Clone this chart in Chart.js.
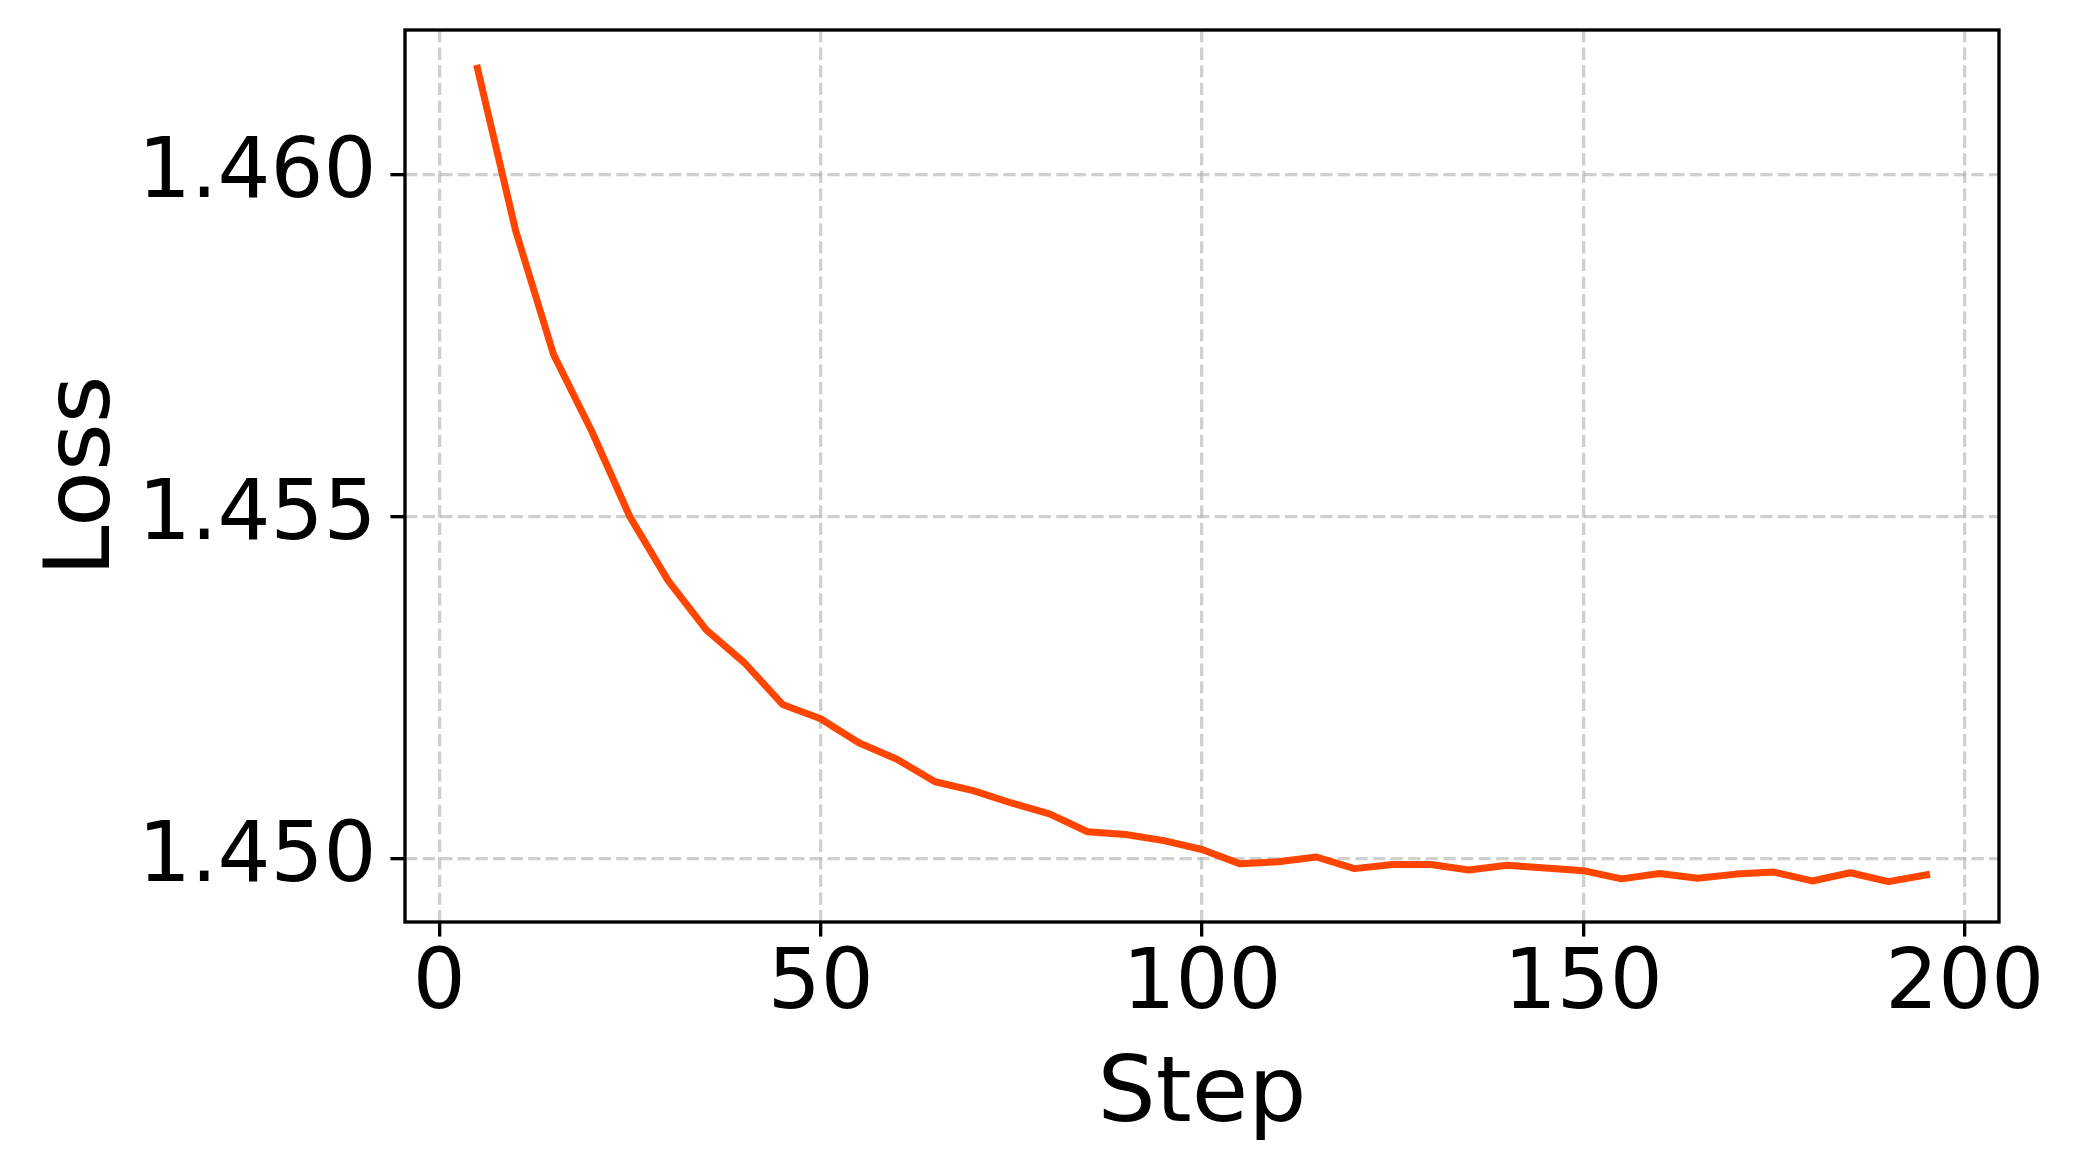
<!DOCTYPE html>
<html>
<head>
<meta charset="utf-8">
<title>Loss</title>
<script src="https://cdn.jsdelivr.net/npm/chart.js@4.4.1/dist/chart.umd.min.js"></script>
<style>
  body { margin: 0; background: #fff; }
  #myChart { display: block; }
</style>
</head>
<body>
<canvas id="myChart" width="2073" height="1170"></canvas>
<script>
// data
const steps = [5, 10, 15, 20, 25, 30, 35, 40, 45, 50, 55, 60, 65, 70, 75, 80, 85, 90, 95, 100,
    105, 110, 115, 120, 125, 130, 135, 140, 145, 150, 155, 160, 165, 170, 175, 180, 185, 190, 195]
const lossValues = [1.46156, 1.45919, 1.45737, 1.45625, 1.45500, 1.45407, 1.45335, 1.45287, 1.45226, 1.45205,
    1.45170, 1.45146, 1.45113, 1.45100, 1.45082, 1.45066, 1.45040, 1.45036, 1.45027, 1.45014,
    1.44993, 1.44996, 1.45003, 1.44986, 1.44992, 1.44992, 1.44984, 1.44991, 1.44987, 1.44983,
    1.44971, 1.44979, 1.44972, 1.44978, 1.44981, 1.44968, 1.44980, 1.44967, 1.44977]
const xTicks = [0, 50, 100, 150, 200]
const yTicks = [1.450, 1.455, 1.460]

const tickFont = { family: 'DejaVu Sans', size: 83.3 }
const titleFont = { family: 'DejaVu Sans', size: 91.7 }
const gridColor = 'rgba(176, 176, 176, 0.6)'

// black box around the plot area
const frame = {
    id: 'frame',
    afterDraw: chart => {
        const { ctx, chartArea } = chart
        ctx.save()
        ctx.strokeStyle = '#000'
        ctx.lineWidth = 3.33
        ctx.strokeRect(chartArea.left, chartArea.top, chartArea.right - chartArea.left, chartArea.bottom - chartArea.top)
        ctx.restore()
    }
}

const ctx = document.querySelector('#myChart').getContext('2d')

const myChart = new Chart(ctx, {
    type: 'line',
    data: {
        datasets: [
            {
                label: 'Loss',
                data: steps.map((s, i) => ({ x: s, y: lossValues[i] })),
                borderColor: '#ff4500',
                borderWidth: 7,
                borderCapStyle: 'square',
                borderJoinStyle: 'round',
                pointRadius: 0,
                tension: 0,
                fill: false
            }
        ]
    },
    options: {
        responsive: false,
        animation: false,
        events: [],
        layout: {
            padding: { top: 30, right: 74, left: 0, bottom: 0 }
        },
        plugins: {
            legend: { display: false },
            tooltip: { enabled: false }
        },
        scales: {
            x: {
                type: 'linear',
                min: -4.5,
                max: 204.5,
                afterBuildTicks: scale => {
                    scale.ticks = xTicks.map(v => ({ value: v }))
                },
                afterFit: scale => {
                    scale.height = 248
                    scale.paddingLeft = 0
                    scale.paddingRight = 0
                },
                grid: {
                    color: gridColor,
                    lineWidth: 3.33,
                    tickColor: '#000',
                    tickWidth: 3.33,
                    tickLength: 14.6
                },
                border: { display: false, dash: [12.3, 5.3] },
                ticks: {
                    font: tickFont,
                    color: '#000',
                    padding: 0,
                    autoSkip: false,
                    maxRotation: 0,
                    callback: v => String(v)
                },
                title: {
                    display: true,
                    text: 'Step',
                    font: titleFont,
                    color: '#000',
                    padding: { top: 0, bottom: 18 }
                }
            },
            y: {
                min: 1.44908,
                max: 1.46212,
                afterBuildTicks: scale => {
                    scale.ticks = yTicks.map(v => ({ value: v }))
                },
                afterFit: scale => {
                    scale.width = 405
                    // labels sit well inside the axis, no extra room needed
                    scale.paddingTop = 0
                    scale.paddingBottom = 0
                },
                grid: {
                    color: gridColor,
                    lineWidth: 3.33,
                    tickColor: '#000',
                    tickWidth: 3.33,
                    tickLength: 14.6
                },
                border: { display: false, dash: [12.3, 5.3] },
                ticks: {
                    font: tickFont,
                    color: '#000',
                    padding: 14,
                    callback: v => v.toFixed(3)
                },
                title: {
                    display: true,
                    text: 'Loss',
                    font: titleFont,
                    color: '#000',
                    padding: { top: 30, bottom: 0 }
                }
            }
        }
    },
    plugins: [frame]
})
</script>
</body>
</html>
